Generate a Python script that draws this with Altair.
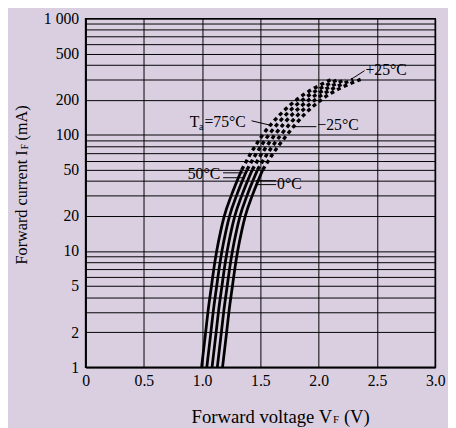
import altair as alt
import pandas as pd

# ---- data ----
temps = ["75", "50", "25", "0", "-25"]
currents = [1, 2, 3, 5, 7, 10, 15, 20, 30, 50, 70, 100, 150, 200, 300]   # I_F (mA)
v_75 = [0.995, 1.03, 1.05, 1.08, 1.10, 1.125, 1.16, 1.19, 1.25, 1.34, 1.42, 1.52, 1.67, 1.81, 2.11]
v_50 = [1.04, 1.075, 1.095, 1.125, 1.145, 1.17, 1.205, 1.235, 1.295, 1.385, 1.468, 1.572, 1.722, 1.863, 2.17]
v_25 = [1.085, 1.12, 1.14, 1.17, 1.19, 1.215, 1.25, 1.28, 1.34, 1.43, 1.516, 1.624, 1.774, 1.916, 2.23]
v_0 = [1.13, 1.165, 1.185, 1.215, 1.235, 1.26, 1.295, 1.325, 1.385, 1.475, 1.564, 1.676, 1.826, 1.969, 2.295]
v_m25 = [1.175, 1.21, 1.23, 1.26, 1.28, 1.305, 1.34, 1.37, 1.43, 1.52, 1.612, 1.728, 1.878, 2.022, 2.36]
split_current = 50   # above this the curves are drawn dashed

x_ticks = [0, 0.5, 1.0, 1.5, 2.0, 2.5, 3.0]
y_grid = [1, 2, 3, 4, 5, 6, 7, 8, 9,
          10, 20, 30, 40, 50, 60, 70, 80, 90,
          100, 200, 300, 400, 500, 600, 700, 800, 900, 1000]
y_labels = [1, 2, 5, 10, 20, 50, 100, 200, 500, 1000]

rows = []
for t, vs in zip(temps, [v_75, v_50, v_25, v_0, v_m25]):
    for i, v in zip(currents, vs):
        rows.append({"T": t, "I": i, "V": v})
df = pd.DataFrame(rows)
solid = df[df["I"] <= split_current]
dashed = df[df["I"] >= split_current]

FONT = "Liberation Serif"
W, H = 356, 355

xscale = alt.Scale(domain=[0, 3], nice=False, zero=False)
yscale = alt.Scale(type="log", domain=[1, 1000], nice=False)

label_list = ",".join(str(v) for v in y_labels)
y_expr = ("indexof([" + label_list + "], datum.value) >= 0 ? "
          "(datum.value == 1000 ? '1 000' : format(datum.value, 'd')) : ''")

xenc = alt.X("V:Q", scale=xscale,
             axis=alt.Axis(values=x_ticks, title=None, grid=True, ticks=False,
                           labelExpr="datum.value == 0 ? '0' : format(datum.value, '.1f')",
                           labelPadding=6, labelFontSize=16, labelFont=FONT,
                           labelColor="black", gridColor="black", gridWidth=1,
                           domainColor="black", domainWidth=1.5, labelFlush=False))
yenc = alt.Y("I:Q", scale=yscale,
             axis=alt.Axis(values=y_grid, title=None, grid=True, ticks=False,
                           labelExpr=y_expr, labelOverlap=False, labelPadding=7,
                           labelFontSize=16, labelFont=FONT, labelColor="black",
                           gridColor="black", gridWidth=1,
                           domainColor="black", domainWidth=1.5, labelFlush=False))

solid_lines = alt.Chart(solid).mark_line(
    color="black", strokeWidth=2.8, interpolate="monotone"
).encode(x=xenc, y=yenc, detail="T:N", order="I:Q")

dashed_lines = alt.Chart(dashed).mark_line(
    color="black", strokeWidth=3.4, strokeDash=[4, 3.5], interpolate="monotone"
).encode(x="V:Q", y="I:Q", detail="T:N", order="I:Q")

base = alt.Chart(pd.DataFrame({"a": [0]}))


def txt(s, x, y, size=16, align="left", angle=0, baseline="middle"):
    return base.mark_text(text=s, font=FONT, fontSize=size, align=align,
                          baseline=baseline, angle=angle, color="black").encode(
        x=alt.value(x), y=alt.value(y))


def seg(x1, y1, x2, y2, w=1):
    return base.mark_rule(color="black", strokeWidth=w).encode(
        x=alt.value(x1), y=alt.value(y1), x2=alt.value(x2), y2=alt.value(y2))


annotations = [
    # +25 °C
    txt("+25°C", 285, 52),
    seg(284, 53, 270, 62),
    # Ta = 75 °C
    txt("T", 106, 105),
    txt("a", 115.5, 110, size=10),
    txt("=75°C", 121, 105),
    seg(169, 104, 190, 109),
    # -25 °C
    txt("−25°C", 236, 108),
    seg(210, 110, 235, 110),
    # 50 °C
    txt("50°C", 137, 158, align="right"),
    seg(140, 157, 161, 157),
    seg(140, 162, 161, 162),
    # 0 °C
    txt("0°C", 195, 168),
    seg(173, 165, 194, 165),
    seg(173, 169, 194, 169),
    # x-axis title
    txt("Forward voltage V", 251, 406, size=19, align="right"),
    txt("F", 252, 409, size=11),
    txt("(V)", 263, 406, size=19),
    # y-axis title
    txt("Forward current I", -65, 134, size=16.5, align="right", angle=270),
    txt("F", -62, 133, size=10, align="left", angle=270),
    txt("(mA)", -65, 124, size=16.5, align="left", angle=270),
]

chart = alt.layer(solid_lines, dashed_lines, *annotations).properties(
    width=W, height=H,
    autosize=alt.AutoSizeParams(type="none"),
    padding={"left": 79, "top": 7, "right": 13, "bottom": 58},
    background="#d9cfe1",
).configure_view(stroke="black", strokeWidth=1.5)

chart.save("out.html", embed_options={"renderer": "svg", "actions": False})
